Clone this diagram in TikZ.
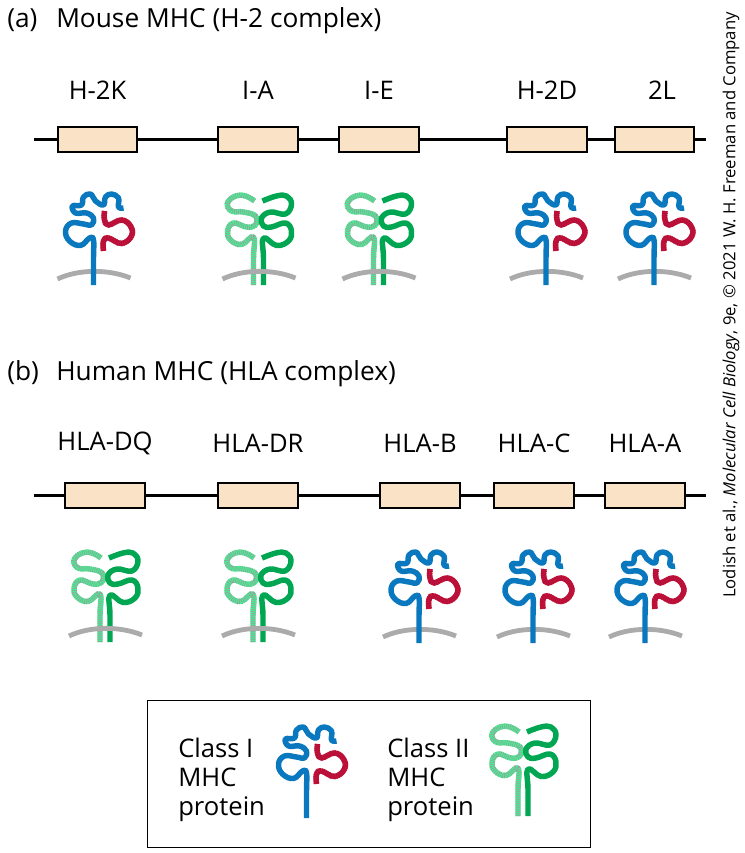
\documentclass[tikz,border=0pt]{standalone}
\usepackage{fontspec}
\setmainfont{Open Sans}
\begin{document}
\definecolor{bluechain}{HTML}{0A78BE}
\definecolor{redchain}{HTML}{CC1230}
\definecolor{redfleck}{HTML}{B01040}
\definecolor{darkgreen}{HTML}{00A651}
\definecolor{paleG}{HTML}{45EE8F}
\definecolor{paleFleck}{HTML}{9C9CA0}
\definecolor{genefill}{HTML}{F9E2C6}
\definecolor{membrane}{HTML}{ABABAB}
\newcommand{\blueroute}{(0,47) (0,20) (0,2) (-4,0) (-13,7.5) (-24,3) (-28,-7) (-22,-15) (-10,-14) (-2,-13) (0,-20) (-7,-25) (-18,-25) (-21,-32) (-12,-33) (-10,-41) (-3,-44) (2,-37) (10,-33) (12,-41) (18,-44) (25,-40) (25,-31) (30,-30)}
\newcommand{\redroute}{(11,-27) (11,-18) (15,-13) (28,-18) (37,-12) (38,-2) (28,5.5) (15,0) (10,3) (10,13)}
\newcommand{\paleroute}{(-5,47) (-5,20) (-5,-1) (-17,6.5) (-28,2) (-31,-7) (-25,-15) (-12,-11) (-3,-13) (-3,-22) (-15,-26) (-27,-27) (-31,-35) (-23,-42) (-13,-42) (-4,-37)}
\newcommand{\darkroute}{(5,47) (5,20) (5,0) (18,7.5) (30,3) (33,-7) (27,-15) (13,-11) (5,-12) (3,-20) (12,-26) (27,-24) (33,-34) (28,-42) (18,-42) (4,-37)}
\tikzset{
  genebox/.style={draw=black,line width=1.6pt,fill=genefill,minimum width=59.5pt,minimum height=18.5pt,inner sep=0pt},
  dnaline/.style={draw=black,line width=1.9pt},
  lbl/.style={font=\fontsize{19.2}{22}\selectfont,inner sep=0pt},
  title/.style={font=\fontsize{19.7}{22}\selectfont,inner sep=0pt,anchor=base west},
  chain/.style={line width=4.1pt,line join=round,line cap=butt},
  legendtxt/.style={font=\fontsize{19.2}{22}\selectfont,inner sep=0pt,anchor=base west},
  memarc/.style={draw=membrane,line width=3.6pt},
  pics/classone/.style={code={
    \draw[chain,bluechain] plot[smooth,tension=0.7] coordinates {\blueroute};
    \draw[chain,redchain] plot[smooth,tension=0.7] coordinates {\redroute};
    \draw[chain,redfleck,dash pattern=on 0.75pt off 0.75pt] plot[smooth,tension=0.7] coordinates {\redroute};
  }},
  pics/classtwo/.style={code={
    \draw[chain,paleG] plot[smooth,tension=0.7] coordinates {\paleroute};
    \draw[chain,paleFleck,dash pattern=on 0.45pt off 1.05pt] plot[smooth,tension=0.7] coordinates {\paleroute};
    \draw[chain,darkgreen] plot[smooth,tension=0.7] coordinates {\darkroute};
  }},
  pics/cellsurface/.style={code={
    \draw[memarc] (-36,41) .. controls (-15,31) and (15,31) .. (37,40);
  }}
}
\begin{tikzpicture}[x=0.75pt,y=-0.75pt]
\useasboundingbox (0,0) rectangle (744,853);

% panel (a): the H-2 locus
\node[title] (ta) at (7,27) {(a)};
\node[title] (tam) at (56,27) {Mouse MHC (H-2 complex)};
\coordinate (a0) at (34,139.5);
\coordinate (a6) at (706,139.5);
\node[genebox] (a1) at (97.5,139.5) {};
\node[genebox] (a2) at (258,139.5) {};
\node[genebox] (a3) at (379,139.5) {};
\node[genebox] (a4) at (547,139.5) {};
\node[genebox] (a5) at (654.5,139.5) {};
\draw[dnaline] (a0) -- (a1) (a1) -- (a2) (a2) -- (a3) (a3) -- (a4) (a4) -- (a5) (a5) -- (a6);
\node[lbl] (la1) at (97.5,90) {H-2K};
\node[lbl] (la2) at (258,90) {I-A};
\node[lbl] (la3) at (379,90) {I-E};
\node[lbl] (la4) at (547,90) {H-2D};
\node[lbl] (la5) at (662,90) {2L};

\pic at (93.5,238) {cellsurface};
\pic at (93.5,238) {classone};
\pic at (258.5,238) {classtwo};
\pic at (258.5,238) {cellsurface};
\pic at (378.5,238) {classtwo};
\pic at (378.5,238) {cellsurface};
\pic at (546,238) {cellsurface};
\pic at (546,238) {classone};
\pic at (654,238) {cellsurface};
\pic at (654,238) {classone};

% panel (b): the HLA locus
\node[title] (tb) at (7,380) {(b)};
\node[title] (tbm) at (56,380) {Human MHC (HLA complex)};
\coordinate (b0) at (34,495.5);
\coordinate (b6) at (706,495.5);
\node[genebox] (b1) at (105,495.5) {};
\node[genebox] (b2) at (258,495.5) {};
\node[genebox] (b3) at (420,495.5) {};
\node[genebox] (b4) at (534,495.5) {};
\node[genebox] (b5) at (645,495.5) {};
\draw[dnaline] (b0) -- (b1) (b1) -- (b2) (b2) -- (b3) (b3) -- (b4) (b4) -- (b5) (b5) -- (b6);
\node[lbl] (lb1) at (105,443.5) {HLA-DQ};
\node[lbl] (lb2) at (258,443.5) {HLA-DR};
\node[lbl] (lb3) at (420,443.5) {HLA-B};
\node[lbl] (lb4) at (534,443.5) {HLA-C};
\node[lbl] (lb5) at (645,443.5) {HLA-A};

\pic at (105,595) {classtwo};
\pic at (105,595) {cellsurface};
\pic at (258,595) {classtwo};
\pic at (258,595) {cellsurface};
\pic at (419,596) {cellsurface};
\pic at (419,596) {classone};
\pic at (533,596) {cellsurface};
\pic at (533,596) {classone};
\pic at (645,596) {cellsurface};
\pic at (645,596) {classone};

% key to the two protein classes
\node[draw=black,line width=1pt,minimum width=332pt,minimum height=110pt,inner sep=0pt,anchor=north west] (key) at (147,700) {};
\node[legendtxt] (k1a) at (178,757) {Class I};
\node[legendtxt] (k1b) at (178,786) {MHC};
\node[legendtxt] (k1c) at (178,815) {protein};
\node[legendtxt] (k2a) at (387,757) {Class II};
\node[legendtxt] (k2b) at (387,786) {MHC};
\node[legendtxt] (k2c) at (387,815) {protein};
\pic at (306.5,771) {classone};
\pic at (523,769) {classtwo};

% credit line along the right edge
\node[rotate=90,anchor=west,inner sep=0pt,font=\fontsize{12.5}{14}\selectfont] (credit) at (731,598)
  {Lodish et al., \textit{Molecular Cell Biology}, 9e, © 2021 W. H. Freeman and Company};
\end{tikzpicture}
\end{document}
